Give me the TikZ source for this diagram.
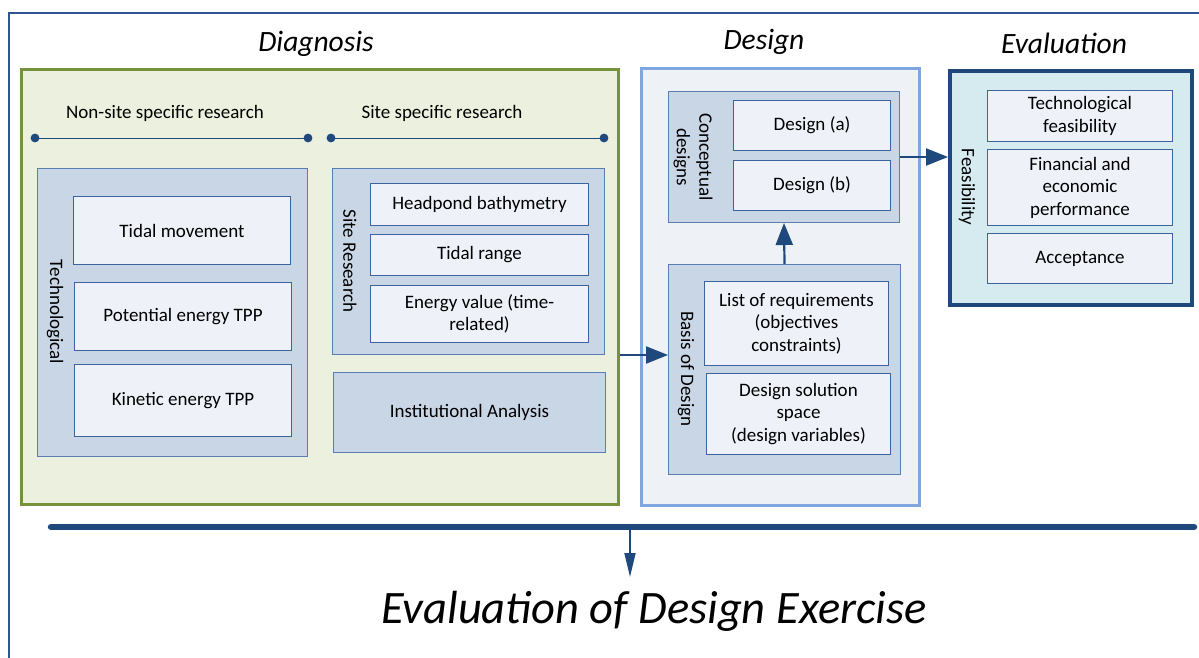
\documentclass[tikz,border=0pt]{standalone}
\usepackage{fontspec}
\setmainfont{Carlito}
\usetikzlibrary{arrows.meta,calc}
\definecolor{frameblue}{HTML}{2F5597}
\definecolor{darkblue}{HTML}{1F497D}
\definecolor{greenline}{HTML}{76923C}
\definecolor{greenfill}{HTML}{EBF1DE}
\definecolor{designline}{HTML}{7EA6DF}
\definecolor{designfill}{HTML}{EEF1F6}
\definecolor{evalfill}{HTML}{D6EBF0}
\definecolor{groupfill}{HTML}{C9D6E6}
\definecolor{groupline}{HTML}{5A7EB2}
\definecolor{innerfill}{HTML}{EEF2F8}
\definecolor{innerline}{HTML}{3A63A0}
\tikzset{
  body/.style={font=\fontsize{19}{22.5}\selectfont},
  phase/.style={font=\fontsize{29.5}{33}\selectfont\itshape},
  area/.style={anchor=north west, inner sep=0pt},
  group/.style={area, fill=groupfill, draw=groupline, line width=1pt},
  innerbox/.style={area, fill=innerfill, draw=innerline, line width=1pt, body, align=center},
  vlabel/.style={body, rotate=-90, align=center},
  arr/.style={draw=darkblue, line width=2.2pt, -{Triangle[length=22pt,width=17pt]}},
  dotline/.style={draw=darkblue, line width=1pt},
}
\newcommand{\bx}[6]{\node[#1, minimum width=#4pt, minimum height=#5pt] (#2) at (#3) {#6};}
\begin{document}
\begin{tikzpicture}[x=1pt,y=-1pt]
\useasboundingbox (0,0) rectangle (1199,657);
% outer frame
\draw[frameblue, line width=1.6pt] (9,660) -- (9,13) -- (1202,13);
% phase titles
\node[phase] (tdiag) at (316,44) {Diagnosis};
\node[phase] (tdes) at (764,42) {Design};
\node[phase] (teval) at (1064,43) {Evaluation};
% big containers
\bx{area, fill=greenfill, draw=greenline, line width=3.2pt}{diag}{20,68}{597}{435}{}
\bx{area, fill=designfill, draw=designline, line width=3.2pt}{des}{640,67}{278}{437}{}
\bx{area, fill=evalfill, draw=darkblue, line width=3.6pt}{eval}{948,69}{242}{234}{}
% research headers
\node[body] (nsr) at (165,113) {Non-site specific research};
\node[body] (ssr) at (442,113) {Site specific research};
\coordinate (n1) at (35,138); \coordinate (n2) at (308,138);
\coordinate (s1) at (331,138); \coordinate (s2) at (604,138);
\draw[dotline] (n1) -- (n2);
\draw[dotline] (s1) -- (s2);
\foreach \p in {n1,n2,s1,s2} \fill[darkblue] (\p) circle (4.4);
% technological group
\bx{group}{tech}{37,168}{270}{288}{}
\node[vlabel] (techl) at (55,312) {Technological};
\bx{innerbox}{tm}{73,196}{217}{68}{Tidal movement}
\bx{innerbox}{pe}{74,282}{217}{68}{Potential energy TPP}
\bx{innerbox}{ke}{74,364}{217}{72}{Kinetic energy TPP}
% site research group
\bx{group}{sr}{332,168}{272}{186}{}
\node[vlabel] (srl) at (350,261) {Site Research};
\bx{innerbox}{hb}{370,183}{218}{42}{Headpond bathymetry}
\bx{innerbox}{tr}{370,234}{218}{41}{Tidal range}
\bx{innerbox}{ev}{370,285}{218}{57}{Energy value (time-\\related)}
\bx{group, body}{ia}{333,372}{272}{80}{Institutional Analysis}
% design side
\bx{group}{concept}{668,91}{231}{131}{}
\node[vlabel] (conl) at (693,157) {Conceptual\\designs};
\bx{innerbox}{da}{733,100}{157}{50}{Design (a)}
\bx{innerbox}{db}{733,160}{157}{50}{Design (b)}
\bx{group}{basis}{668,264}{232}{210}{}
\node[vlabel] (basl) at (686,369) {Basis of Design};
\bx{innerbox}{lr}{704,281}{184}{84}{List of requirements\\(objectives\\constraints)}
\bx{innerbox}{dss}{706,373}{184}{81}{Design solution\\space\\(design variables)}
% evaluation side
\node[vlabel] (feas) at (967,187) {Feasibility};
\bx{innerbox}{tf}{987,90}{185}{51}{Technological\\feasibility}
\bx{innerbox}{fe}{987,149}{185}{76}{Financial and\\economic\\performance}
\bx{innerbox}{acc}{987,233}{185}{50}{Acceptance}
% connectors
\draw[arr] (diag.east |- sr.south) -- (basis.west |- sr.south);
\draw[arr] (basis.north) -- (concept.south);
\draw[arr] (concept.east) -- (concept.east -| eval.west);
% bottom bar
\coordinate (b1) at (51,527); \coordinate (b2) at (1194,527);
\draw[darkblue, line width=6.5pt, line cap=round] (b1) -- (b2);
\coordinate (bm) at (630,527); \coordinate (bend) at (630,577);
\node[font=\fontsize{46.5}{50}\selectfont\itshape] (final) at (654,611) {Evaluation of Design Exercise};
\draw[darkblue, line width=1.8pt, -{Triangle[length=24pt,width=11pt]}] (bm) -- (bend);
\end{tikzpicture}
\end{document}
